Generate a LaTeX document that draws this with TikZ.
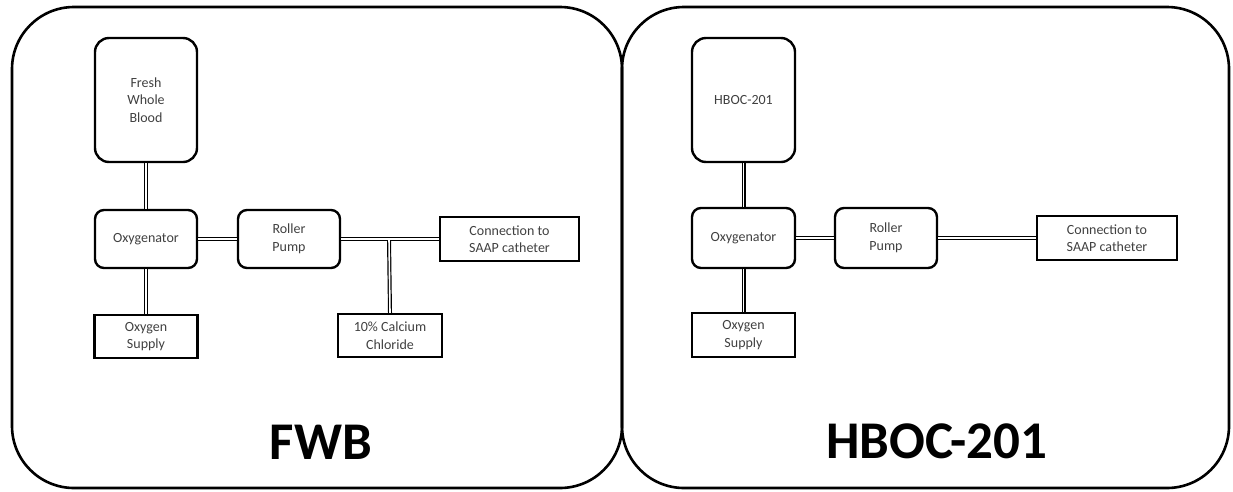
\documentclass[tikz,border=0pt]{standalone}
\usepackage{fontspec}
\setmainfont{Carlito}
\begin{document}
\begin{tikzpicture}[x=1pt,y=-1pt,
  panel/.style={draw, line width=2.6pt, rounded corners=62pt},
  rbox/.style={draw, line width=2.4pt, rounded corners=9pt, align=center, text=black!75, font=\fontsize{14}{17.5}\selectfont, inner sep=0pt},
  sbox/.style={draw, line width=2.4pt, align=center, text=black!75, font=\fontsize{14}{17.5}\selectfont, inner sep=0pt},
  pipe/.style={draw, double, line width=1.2pt, double distance=1.6pt},
  title/.style={font=\fontsize{53}{60}\selectfont\bfseries}]
\useasboundingbox (0,0) rectangle (1233,491);
% panels
\draw[panel] (12,7) rectangle (622,488);
\draw[panel] (622,7) rectangle (1229,488);
% panel 1 nodes
\node[rbox, rounded corners=14pt, minimum width=102pt, minimum height=124pt] (fwb) at (146,100) {Fresh\\Whole\\Blood};
\node[rbox, minimum width=102pt, minimum height=58pt] (oxy1) at (146,239) {Oxygenator};
\node[rbox, minimum width=102pt, minimum height=58pt] (pump1) at (289,239) {Roller\\Pump};
\node[sbox, minimum width=103pt, minimum height=43pt] (sup1) at (146,336.5) {Oxygen\\Supply};
\node[sbox, minimum width=104pt, minimum height=43pt] (cal) at (390,335.5) {10\% Calcium\\Chloride};
\node[sbox, minimum width=139pt, minimum height=44pt] (con1) at (509.5,239) {Connection to\\SAAP catheter};
\coordinate (jn) at (389,239);
% panel 1 pipes
\draw[pipe] (fwb.south) -- (oxy1.north);
\draw[pipe] (oxy1.south) -- (sup1.north);
\draw[pipe] (oxy1.east) -- (pump1.west);
\draw[pipe] (pump1.east) -- (con1.west);
\draw[pipe] (jn) -- (cal.north);
\draw[white, line width=1.6pt] (pump1.east) -- (con1.west);
% panel 2 nodes
\node[rbox, rounded corners=14pt, minimum width=103pt, minimum height=124pt] (hboc) at (743.5,100) {HBOC-201};
\node[rbox, minimum width=103pt, minimum height=60pt] (oxy2) at (743.5,238) {Oxygenator};
\node[rbox, minimum width=102pt, minimum height=60pt] (pump2) at (886,238) {Roller\\Pump};
\node[sbox, minimum width=103pt, minimum height=44pt] (sup2) at (743.5,335) {Oxygen\\Supply};
\node[sbox, minimum width=140pt, minimum height=44pt] (con2) at (1107,238) {Connection to\\SAAP catheter};
% panel 2 pipes
\draw[pipe] (hboc.south) -- (oxy2.north);
\draw[pipe] (oxy2.south) -- (sup2.north);
\draw[pipe] (oxy2.east) -- (pump2.west);
\draw[pipe] (pump2.east) -- (con2.west);
% titles
\node[title] (t1) at (321,442) {FWB};
\node[title] (t2) at (937,441) {HBOC-201};
\end{tikzpicture}
\end{document}
